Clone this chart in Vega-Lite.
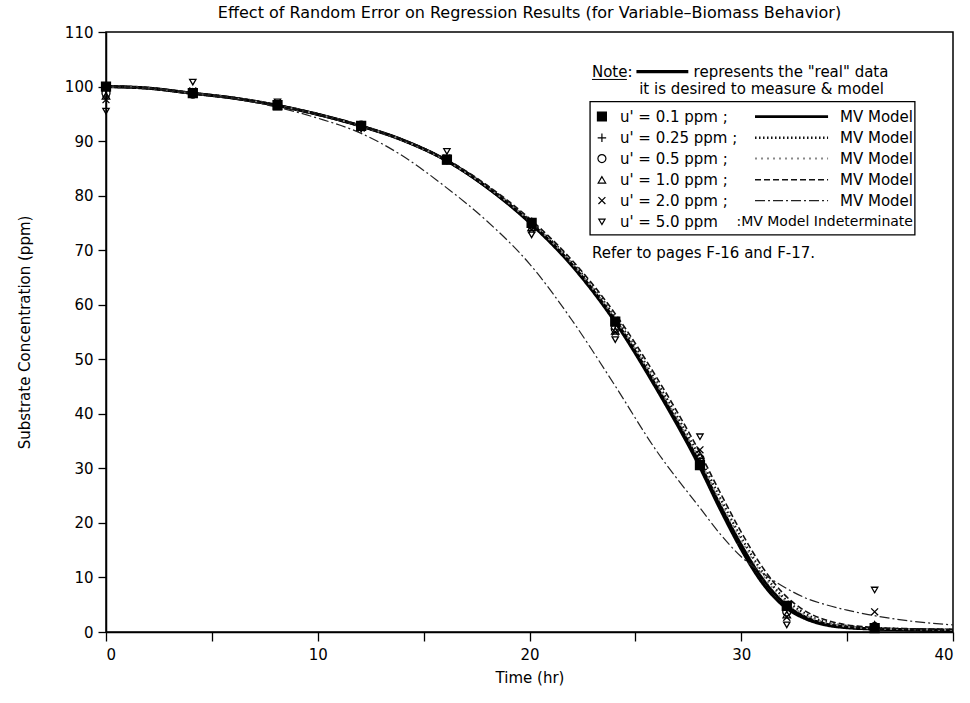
{
  "$schema": "https://vega.github.io/schema/vega-lite/v6.json",
  "width": 847,
  "height": 600,
  "autosize": {"type": "none"},
  "padding": {"left": 106, "top": 32, "right": 17, "bottom": 71},
  "background": "white",
  "config": {
    "view": {"stroke": "black", "strokeWidth": 1.5},
    "font": "DejaVu Sans",
    "axis": {"grid": false, "domainColor": "black", "domainWidth": 1.5, "tickColor": "black", "tickWidth": 1.3, "labelColor": "black", "titleColor": "black", "labelFont": "DejaVu Sans", "titleFont": "DejaVu Sans", "labelFontSize": 15, "titleFontSize": 15, "titleFontWeight": "normal"}
  },
  "title": {"text": "Effect of Random Error on Regression Results (for Variable–Biomass Behavior)", "font": "DejaVu Sans", "fontSize": 16, "fontWeight": "normal", "color": "black", "offset": 4, "anchor": "middle"},
  "datasets": {
    "curves": [
      {"series": "real", "t": 0, "v": 100}, {"series": "real", "t": 2, "v": 99.7}, {"series": "real", "t": 4, "v": 98.8}, {"series": "real", "t": 6, "v": 97.9}, {"series": "real", "t": 8, "v": 96.6}, {"series": "real", "t": 10, "v": 94.9}, {"series": "real", "t": 12, "v": 92.8}, {"series": "real", "t": 14, "v": 90.2}, {"series": "real", "t": 16, "v": 86.6}, {"series": "real", "t": 18, "v": 81.5}, {"series": "real", "t": 20, "v": 75.1}, {"series": "real", "t": 22, "v": 67.2}, {"series": "real", "t": 24, "v": 57.1}, {"series": "real", "t": 26, "v": 44.6}, {"series": "real", "t": 28, "v": 30.6}, {"series": "real", "t": 29, "v": 22.6}, {"series": "real", "t": 30, "v": 15.2}, {"series": "real", "t": 31, "v": 9.0}, {"series": "real", "t": 32, "v": 4.8}, {"series": "real", "t": 33, "v": 2.5}, {"series": "real", "t": 34, "v": 1.3}, {"series": "real", "t": 35, "v": 0.8}, {"series": "real", "t": 36, "v": 0.6}, {"series": "real", "t": 38, "v": 0.4}, {"series": "real", "t": 40, "v": 0.3},
      {"series": "0.1", "t": 0, "v": 100}, {"series": "0.1", "t": 2, "v": 99.7}, {"series": "0.1", "t": 4, "v": 98.8}, {"series": "0.1", "t": 6, "v": 97.9}, {"series": "0.1", "t": 8, "v": 96.6}, {"series": "0.1", "t": 10, "v": 94.9}, {"series": "0.1", "t": 12, "v": 92.8}, {"series": "0.1", "t": 14, "v": 90.2}, {"series": "0.1", "t": 16, "v": 86.6}, {"series": "0.1", "t": 18, "v": 81.5}, {"series": "0.1", "t": 20, "v": 75.2}, {"series": "0.1", "t": 22, "v": 67.4}, {"series": "0.1", "t": 24, "v": 57.4}, {"series": "0.1", "t": 26, "v": 45.0}, {"series": "0.1", "t": 28, "v": 31.2}, {"series": "0.1", "t": 29, "v": 23.3}, {"series": "0.1", "t": 30, "v": 16.0}, {"series": "0.1", "t": 31, "v": 9.8}, {"series": "0.1", "t": 32, "v": 5.4}, {"series": "0.1", "t": 33, "v": 2.8}, {"series": "0.1", "t": 34, "v": 1.5}, {"series": "0.1", "t": 35, "v": 0.9}, {"series": "0.1", "t": 36, "v": 0.6}, {"series": "0.1", "t": 38, "v": 0.4}, {"series": "0.1", "t": 40, "v": 0.3},
      {"series": "0.25", "t": 0, "v": 100}, {"series": "0.25", "t": 2, "v": 99.7}, {"series": "0.25", "t": 4, "v": 98.8}, {"series": "0.25", "t": 6, "v": 97.9}, {"series": "0.25", "t": 8, "v": 96.6}, {"series": "0.25", "t": 10, "v": 94.9}, {"series": "0.25", "t": 12, "v": 92.8}, {"series": "0.25", "t": 14, "v": 90.2}, {"series": "0.25", "t": 16, "v": 86.7}, {"series": "0.25", "t": 18, "v": 81.7}, {"series": "0.25", "t": 20, "v": 75.5}, {"series": "0.25", "t": 22, "v": 67.8}, {"series": "0.25", "t": 24, "v": 58.0}, {"series": "0.25", "t": 26, "v": 45.9}, {"series": "0.25", "t": 28, "v": 32.3}, {"series": "0.25", "t": 29, "v": 24.6}, {"series": "0.25", "t": 30, "v": 17.3}, {"series": "0.25", "t": 31, "v": 11.0}, {"series": "0.25", "t": 32, "v": 6.3}, {"series": "0.25", "t": 33, "v": 3.4}, {"series": "0.25", "t": 34, "v": 1.8}, {"series": "0.25", "t": 35, "v": 1.1}, {"series": "0.25", "t": 36, "v": 0.8}, {"series": "0.25", "t": 38, "v": 0.5}, {"series": "0.25", "t": 40, "v": 0.4},
      {"series": "0.5", "t": 0, "v": 100}, {"series": "0.5", "t": 2, "v": 99.7}, {"series": "0.5", "t": 4, "v": 98.8}, {"series": "0.5", "t": 6, "v": 97.9}, {"series": "0.5", "t": 8, "v": 96.6}, {"series": "0.5", "t": 10, "v": 94.9}, {"series": "0.5", "t": 12, "v": 92.8}, {"series": "0.5", "t": 14, "v": 90.2}, {"series": "0.5", "t": 16, "v": 86.6}, {"series": "0.5", "t": 18, "v": 81.6}, {"series": "0.5", "t": 20, "v": 75.4}, {"series": "0.5", "t": 22, "v": 67.6}, {"series": "0.5", "t": 24, "v": 57.7}, {"series": "0.5", "t": 26, "v": 45.5}, {"series": "0.5", "t": 28, "v": 31.8}, {"series": "0.5", "t": 29, "v": 24.0}, {"series": "0.5", "t": 30, "v": 16.8}, {"series": "0.5", "t": 31, "v": 10.5}, {"series": "0.5", "t": 32, "v": 5.9}, {"series": "0.5", "t": 33, "v": 3.1}, {"series": "0.5", "t": 34, "v": 1.7}, {"series": "0.5", "t": 35, "v": 1.0}, {"series": "0.5", "t": 36, "v": 0.7}, {"series": "0.5", "t": 38, "v": 0.5}, {"series": "0.5", "t": 40, "v": 0.4},
      {"series": "1.0", "t": 0, "v": 100}, {"series": "1.0", "t": 2, "v": 99.7}, {"series": "1.0", "t": 4, "v": 98.8}, {"series": "1.0", "t": 6, "v": 97.9}, {"series": "1.0", "t": 8, "v": 96.6}, {"series": "1.0", "t": 10, "v": 94.9}, {"series": "1.0", "t": 12, "v": 92.8}, {"series": "1.0", "t": 14, "v": 90.3}, {"series": "1.0", "t": 16, "v": 86.8}, {"series": "1.0", "t": 18, "v": 81.9}, {"series": "1.0", "t": 20, "v": 75.8}, {"series": "1.0", "t": 22, "v": 68.2}, {"series": "1.0", "t": 24, "v": 58.6}, {"series": "1.0", "t": 26, "v": 46.7}, {"series": "1.0", "t": 28, "v": 33.2}, {"series": "1.0", "t": 29, "v": 25.6}, {"series": "1.0", "t": 30, "v": 18.3}, {"series": "1.0", "t": 31, "v": 11.9}, {"series": "1.0", "t": 32, "v": 7.0}, {"series": "1.0", "t": 33, "v": 3.9}, {"series": "1.0", "t": 34, "v": 2.2}, {"series": "1.0", "t": 35, "v": 1.3}, {"series": "1.0", "t": 36, "v": 0.9}, {"series": "1.0", "t": 38, "v": 0.6}, {"series": "1.0", "t": 40, "v": 0.5},
      {"series": "2.0", "t": 0, "v": 100}, {"series": "2.0", "t": 2, "v": 99.7}, {"series": "2.0", "t": 4, "v": 98.9}, {"series": "2.0", "t": 6, "v": 97.8}, {"series": "2.0", "t": 8, "v": 96.3}, {"series": "2.0", "t": 10, "v": 94.2}, {"series": "2.0", "t": 12, "v": 91.5}, {"series": "2.0", "t": 14, "v": 87.3}, {"series": "2.0", "t": 16, "v": 81.7}, {"series": "2.0", "t": 18, "v": 75.3}, {"series": "2.0", "t": 20, "v": 67.5}, {"series": "2.0", "t": 22, "v": 57.2}, {"series": "2.0", "t": 24, "v": 45.4}, {"series": "2.0", "t": 26, "v": 33.2}, {"series": "2.0", "t": 28, "v": 23.0}, {"series": "2.0", "t": 29, "v": 18.0}, {"series": "2.0", "t": 30, "v": 13.8}, {"series": "2.0", "t": 31, "v": 10.8}, {"series": "2.0", "t": 32, "v": 8.3}, {"series": "2.0", "t": 33, "v": 6.3}, {"series": "2.0", "t": 34, "v": 5.0}, {"series": "2.0", "t": 35, "v": 4.0}, {"series": "2.0", "t": 36, "v": 3.2}, {"series": "2.0", "t": 38, "v": 2.0}, {"series": "2.0", "t": 40, "v": 1.3}
    ],
    "points": [
      {"series": "0.1", "t": 0, "v": 100}, {"series": "0.1", "t": 4.1, "v": 98.8}, {"series": "0.1", "t": 8.1, "v": 96.6}, {"series": "0.1", "t": 12.05, "v": 92.8}, {"series": "0.1", "t": 16.1, "v": 86.6}, {"series": "0.1", "t": 20.1, "v": 75.0}, {"series": "0.1", "t": 24.05, "v": 56.9}, {"series": "0.1", "t": 28.05, "v": 30.6}, {"series": "0.1", "t": 32.15, "v": 4.8}, {"series": "0.1", "t": 36.3, "v": 0.7},
      {"series": "0.25", "t": 0, "v": 99.3}, {"series": "0.25", "t": 4.1, "v": 98.9}, {"series": "0.25", "t": 8.1, "v": 96.5}, {"series": "0.25", "t": 12.05, "v": 92.7}, {"series": "0.25", "t": 16.1, "v": 86.5}, {"series": "0.25", "t": 20.1, "v": 75.2}, {"series": "0.25", "t": 24.05, "v": 56.2}, {"series": "0.25", "t": 28.05, "v": 31.3}, {"series": "0.25", "t": 32.15, "v": 4.2}, {"series": "0.25", "t": 36.3, "v": 0.9},
      {"series": "0.5", "t": 0, "v": 98.8}, {"series": "0.5", "t": 4.1, "v": 98.6}, {"series": "0.5", "t": 8.1, "v": 96.7}, {"series": "0.5", "t": 12.05, "v": 92.9}, {"series": "0.5", "t": 16.1, "v": 86.7}, {"series": "0.5", "t": 20.1, "v": 74.6}, {"series": "0.5", "t": 24.05, "v": 55.6}, {"series": "0.5", "t": 28.05, "v": 31.8}, {"series": "0.5", "t": 32.15, "v": 3.7}, {"series": "0.5", "t": 36.3, "v": 1.0},
      {"series": "1.0", "t": 0, "v": 98.3}, {"series": "1.0", "t": 4.1, "v": 99.0}, {"series": "1.0", "t": 8.1, "v": 96.3}, {"series": "1.0", "t": 12.05, "v": 92.6}, {"series": "1.0", "t": 16.1, "v": 86.4}, {"series": "1.0", "t": 20.1, "v": 74.2}, {"series": "1.0", "t": 24.05, "v": 55.2}, {"series": "1.0", "t": 28.05, "v": 32.4}, {"series": "1.0", "t": 32.15, "v": 3.2}, {"series": "1.0", "t": 36.3, "v": 1.3},
      {"series": "2.0", "t": 0, "v": 97.6}, {"series": "2.0", "t": 4.1, "v": 99.2}, {"series": "2.0", "t": 8.1, "v": 96.9}, {"series": "2.0", "t": 12.05, "v": 92.4}, {"series": "2.0", "t": 16.1, "v": 86.9}, {"series": "2.0", "t": 20.1, "v": 73.8}, {"series": "2.0", "t": 24.05, "v": 55.0}, {"series": "2.0", "t": 28.05, "v": 33.4}, {"series": "2.0", "t": 32.15, "v": 2.7}, {"series": "2.0", "t": 36.3, "v": 3.7},
      {"series": "5.0", "t": 0, "v": 95.5}, {"series": "5.0", "t": 4.1, "v": 100.8}, {"series": "5.0", "t": 8.1, "v": 97.2}, {"series": "5.0", "t": 12.05, "v": 92.2}, {"series": "5.0", "t": 16.1, "v": 88.1}, {"series": "5.0", "t": 20.1, "v": 72.8}, {"series": "5.0", "t": 24.05, "v": 53.6}, {"series": "5.0", "t": 28.05, "v": 35.8}, {"series": "5.0", "t": 32.15, "v": 1.3}, {"series": "5.0", "t": 36.3, "v": 7.7}
    ],
    "legSymbols": [
      {"series": "0.1", "t": 23.42, "v": 94.5}, {"series": "0.25", "t": 23.42, "v": 90.6}, {"series": "0.5", "t": 23.42, "v": 86.8}, {"series": "1.0", "t": 23.42, "v": 82.9}, {"series": "2.0", "t": 23.42, "v": 79.1}, {"series": "5.0", "t": 23.42, "v": 75.2}
    ],
    "legLines": [
      {"series": "real", "t": 25.05, "v": 102.75}, {"series": "real", "t": 27.5, "v": 102.75},
      {"series": "0.1", "t": 30.65, "v": 94.5}, {"series": "0.1", "t": 34.1, "v": 94.5},
      {"series": "0.25", "t": 30.65, "v": 90.6}, {"series": "0.25", "t": 34.1, "v": 90.6},
      {"series": "0.5", "t": 30.65, "v": 86.8}, {"series": "0.5", "t": 34.1, "v": 86.8},
      {"series": "1.0", "t": 30.65, "v": 82.9}, {"series": "1.0", "t": 34.1, "v": 82.9},
      {"series": "2.0", "t": 30.65, "v": 79.1}, {"series": "2.0", "t": 34.1, "v": 79.1}
    ],
    "legLeftText": [
      {"t": 22.95, "v": 102.75, "label": "Note:"},
      {"t": 27.75, "v": 102.75, "label": "represents the \"real\" data"},
      {"t": 24.27, "v": 94.5, "label": "u' = 0.1 ppm ;"},
      {"t": 24.27, "v": 90.6, "label": "u' = 0.25 ppm ;"},
      {"t": 24.27, "v": 86.8, "label": "u' = 0.5 ppm ;"},
      {"t": 24.27, "v": 82.9, "label": "u' = 1.0 ppm ;"},
      {"t": 24.27, "v": 79.1, "label": "u' = 2.0 ppm ;"},
      {"t": 24.27, "v": 75.2, "label": "u' = 5.0 ppm"},
      {"t": 22.95, "v": 69.5, "label": "Refer to pages F-16 and F-17."}
    ],
    "legRightText": [
      {"t": 38.11, "v": 94.5, "label": "MV Model"},
      {"t": 38.11, "v": 90.6, "label": "MV Model"},
      {"t": 38.11, "v": 86.8, "label": "MV Model"},
      {"t": 38.11, "v": 82.9, "label": "MV Model"},
      {"t": 38.11, "v": 79.1, "label": "MV Model"}
    ],
    "legRightSmall": [
      {"t": 38.11, "v": 75.2, "label": ":MV Model Indeterminate"}
    ],
    "legCenterText": [
      {"t": 30.96, "v": 99.6, "label": "it is desired to measure & model"}
    ],
    "legBox": [
      {"t": 22.86, "t2": 38.2, "v": 97.25, "v2": 72.8}
    ],
    "noteUnderline": [
      {"t": 22.95, "t2": 24.6, "v": 101.3}
    ]
  },
  "encoding": {
    "x": {"field": "t", "type": "quantitative", "scale": {"domain": [0, 40], "nice": false, "zero": false},
      "axis": {"values": [0, 5, 10, 15, 20, 25, 30, 35, 40], "labelExpr": "datum.value % 10 === 0 ? datum.label : ''", "tickSize": 9, "labelPadding": 6, "titlePadding": 8, "title": "Time (hr)"}},
    "y": {"field": "v", "type": "quantitative", "scale": {"domain": [0, 110], "nice": false, "zero": false},
      "axis": {"values": [0, 10, 20, 30, 40, 50, 60, 70, 80, 90, 100, 110], "tickSize": 8, "labelPadding": 5, "titlePadding": 32, "title": "Substrate Concentration (ppm)"}}
  },
  "layer": [
    {
      "data": {"name": "curves"},
      "mark": {"type": "line", "interpolate": "monotone"},
      "encoding": {
        "detail": {"field": "series"},
        "order": {"field": "t", "type": "quantitative"},
        "stroke": {"field": "series", "type": "nominal", "scale": {"domain": ["real", "0.1", "0.25", "0.5", "1.0", "2.0"], "range": ["#000000", "#000000", "#111111", "#8a8a8a", "#111111", "#222222"]}, "legend": null},
        "strokeDash": {"field": "series", "type": "nominal", "scale": {"domain": ["real", "0.1", "0.25", "0.5", "1.0", "2.0"], "range": [[1, 0], [1, 0], [1.5, 2.5], [2, 4], [6, 3], [10, 3, 2, 3]]}, "legend": null},
        "strokeWidth": {"field": "series", "type": "nominal", "scale": {"domain": ["real", "0.1", "0.25", "0.5", "1.0", "2.0"], "range": [3.2, 1.2, 1.3, 1, 1.2, 1.2]}, "legend": null}
      }
    },
    {
      "data": {"name": "legLines"},
      "mark": {"type": "line"},
      "encoding": {
        "detail": {"field": "series"},
        "stroke": {"field": "series", "type": "nominal", "legend": null},
        "strokeDash": {"field": "series", "type": "nominal", "legend": null},
        "strokeWidth": {"field": "series", "type": "nominal", "legend": null}
      }
    },
    {
      "data": {"name": "points"},
      "mark": {"type": "point", "filled": true, "stroke": "black", "strokeWidth": 1.3, "opacity": 1},
      "encoding": {
        "shape": {"field": "series", "type": "nominal", "scale": {"domain": ["0.1", "0.25", "0.5", "1.0", "2.0", "5.0"], "range": ["square", "M-1,0L1,0M0,-1L0,1", "circle", "triangle-up", "M-1,-1L1,1M-1,1L1,-1", "triangle-down"]}, "legend": null},
        "fill": {"field": "series", "type": "nominal", "scale": {"domain": ["0.1", "0.25", "0.5", "1.0", "2.0", "5.0"], "range": ["#000000", "transparent", "transparent", "transparent", "transparent", "transparent"]}, "legend": null},
        "size": {"field": "series", "type": "nominal", "scale": {"domain": ["0.1", "0.25", "0.5", "1.0", "2.0", "5.0"], "range": [80, 40, 50, 55, 40, 75]}, "legend": null}
      }
    },
    {
      "data": {"name": "legSymbols"},
      "mark": {"type": "point", "filled": true, "stroke": "black", "strokeWidth": 1.2, "opacity": 1},
      "encoding": {
        "shape": {"field": "series", "type": "nominal", "legend": null},
        "fill": {"field": "series", "type": "nominal", "legend": null},
        "size": {"field": "series", "type": "nominal", "legend": null}
      }
    },
    {
      "data": {"name": "legBox"},
      "mark": {"type": "rect", "fill": "transparent", "stroke": "black", "strokeWidth": 1.3},
      "encoding": {
        "x2": {"field": "t2"},
        "y2": {"field": "v2"}
      }
    },
    {
      "data": {"name": "noteUnderline"},
      "mark": {"type": "rule", "color": "black", "strokeWidth": 1},
      "encoding": {
        "x2": {"field": "t2"}
      }
    },
    {
      "data": {"name": "legLeftText"},
      "mark": {"type": "text", "align": "left", "baseline": "middle", "font": "DejaVu Sans", "fontSize": 15, "color": "black"},
      "encoding": {"text": {"field": "label"}}
    },
    {
      "data": {"name": "legRightText"},
      "mark": {"type": "text", "align": "right", "baseline": "middle", "font": "DejaVu Sans", "fontSize": 15, "color": "black"},
      "encoding": {"text": {"field": "label"}}
    },
    {
      "data": {"name": "legRightSmall"},
      "mark": {"type": "text", "align": "right", "baseline": "middle", "font": "DejaVu Sans", "fontSize": 14, "color": "black"},
      "encoding": {"text": {"field": "label"}}
    },
    {
      "data": {"name": "legCenterText"},
      "mark": {"type": "text", "align": "center", "baseline": "middle", "font": "DejaVu Sans", "fontSize": 15, "color": "black"},
      "encoding": {"text": {"field": "label"}}
    }
  ]
}
